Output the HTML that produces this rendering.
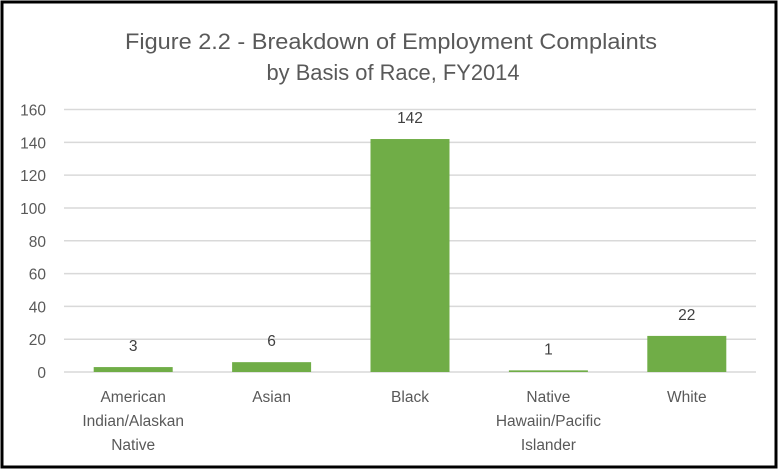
<!DOCTYPE html>
<html><head><meta charset="utf-8"><style>
body{margin:0;background:#fff}
svg{display:block;font-family:"Liberation Sans",sans-serif}
</style></head><body>
<svg id="chart" width="782" height="472" viewBox="0 0 782 472">
<rect x="2" y="2" width="774" height="465" fill="#fff" stroke="#000" stroke-width="3"/>
<text x="391" y="49" text-anchor="middle" font-size="22" fill="#595959" textLength="532" lengthAdjust="spacingAndGlyphs">Figure 2.2 - Breakdown of Employment Complaints</text>
<text x="393" y="80" text-anchor="middle" font-size="22" fill="#595959" textLength="253" lengthAdjust="spacingAndGlyphs">by Basis of Race, FY2014</text>
<g id="grid"></g><g id="bars"></g><g id="labels"></g>
</svg>
<script>
const categories=[["American","Indian/Alaskan","Native"],["Asian"],["Black"],["Native","Hawaiin/Pacific","Islander"],["White"]];
const values=[3,6,142,1,22];
const ticks=[0,20,40,60,80,100,120,140,160];
const NS="http://www.w3.org/2000/svg";
const x0=64,x1=756,yTop=109.5,yBot=372,max=160;
const y=v=>yBot-(v/max)*(yBot-yTop);
const band=(x1-x0)/categories.length;
const cx=i=>x0+band*(i+0.5);
const bw=79;
function mk(tag,attrs,parent,text){const e=document.createElementNS(NS,tag);for(const k in attrs)e.setAttribute(k,attrs[k]);if(text!=null)e.textContent=text;document.getElementById(parent).appendChild(e);return e;}
ticks.forEach(t=>{
  const l=mk("line",{x1:x0,x2:x1,y1:y(t),y2:y(t),stroke:"#d9d9d9","stroke-width":1.5},"grid");
  
  
  const tx=mk("text",{x:46,y:y(t)+6,"text-anchor":"end","font-size":15.5,fill:"#595959"},"labels",t);
  
  
});
values.forEach((v,i)=>{
  const r=mk("rect",{x:cx(i)-bw/2,y:y(v),width:bw,height:yBot-y(v),fill:"#70ad47"},"bars");
  
  
  const vl=mk("text",{x:cx(i),y:y(v)-16,"text-anchor":"middle","font-size":15.5,fill:"#404040"},"labels",v);
  
  
  categories[i].forEach((ln,j)=>{
    const c=mk("text",{x:cx(i),y:402+j*24,"text-anchor":"middle","font-size":15.5,fill:"#595959"},"labels",ln);
    
    
  });
});
</script>
</body></html>
